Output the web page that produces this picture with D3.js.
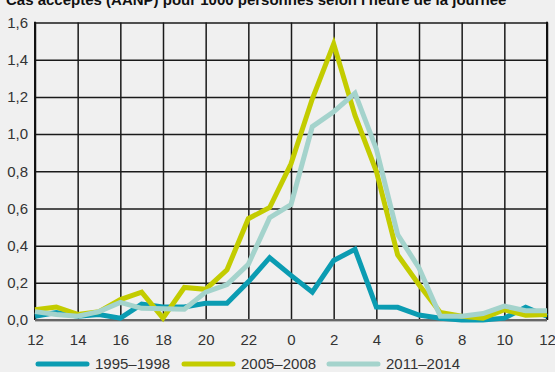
<!DOCTYPE html>
<html>
<head>
<meta charset="utf-8">
<script src="https://cdn.jsdelivr.net/npm/d3@7"></script>
<style>
  html, body { margin: 0; padding: 0; background: #f0f0f0; }
  svg { display: block; }
  text { font-family: "Liberation Sans", Arial, sans-serif; }
</style>
</head>
<body>
<svg id="chart" width="555" height="372"></svg>
<script>
// ---- data ----
const title = "Cas acceptés (AANP) pour 1000 personnes selon l'heure de la journée";
const hourLabels = ["12","14","16","18","20","22","0","2","4","6","8","10","12"];
const yTicks = [0, 0.2, 0.4, 0.6, 0.8, 1.0, 1.2, 1.4, 1.6];
const seriesNames = ["1995–1998", "2005–2008", "2011–2014"];
const seriesColors = ["#0b9cb2", "#c3cc00", "#a4d3cc"];
// hourly values, from 12:00 through midnight to 12:00 (25 points)
const s1995 = [0.02,0.04,0.02,0.03,0.01,0.085,0.07,0.07,0.09,0.09,0.205,0.335,0.24,0.15,0.32,0.38,0.07,0.068,0.027,0.01,0.0,0.0,0.01,0.068,0.02];
const s2005 = [0.055,0.07,0.03,0.045,0.11,0.15,0.01,0.175,0.165,0.27,0.545,0.605,0.84,1.19,1.485,1.1,0.8,0.35,0.19,0.04,0.02,0.01,0.055,0.025,0.03];
const s2011 = [0.045,0.03,0.02,0.045,0.095,0.063,0.06,0.058,0.15,0.19,0.3,0.55,0.62,1.04,1.12,1.22,0.92,0.46,0.28,0.02,0.02,0.035,0.075,0.05,0.05];
const allSeries = [s1995, s2005, s2011];

// ---- layout ----
const svg = d3.select("#chart");
const mLeft = 35, mRight = 547, mTop = 22.5, mBottom = 320;
const x = d3.scaleLinear().domain([0, 24]).range([mLeft, mRight]);
const y = d3.scaleLinear().domain([0, 1.6]).range([mBottom, mTop]);
const fr = d3.formatLocale({decimal: ",", thousands: " ", grouping: [3], currency: ["", ""]});
const fmt = fr.format(".1f");

// title (cut off at the top edge, as in the reference)
svg.append("text")
  .attr("x", 6).attr("y", 4.5)
  .attr("font-size", 15).attr("font-weight", "bold").attr("fill", "#111")
  .text(title);

// vertical grid
const xTickVals = d3.range(0, 25, 2);
svg.append("g")
  .attr("transform", `translate(0,${mBottom})`)
  .call(d3.axisBottom(x).tickValues(xTickVals).tickSize(-(mBottom - mTop)).tickFormat(""))
  .call(g => g.select(".domain").remove())
  .call(g => g.selectAll("line").attr("stroke", "#1a1a1a").attr("stroke-width", 1.5));

// horizontal grid
svg.append("g")
  .attr("transform", `translate(${mLeft},0)`)
  .call(d3.axisLeft(y).tickValues(yTicks).tickSize(-(mRight - mLeft)).tickFormat(""))
  .call(g => g.select(".domain").remove())
  .call(g => g.selectAll("line").attr("stroke", "#1a1a1a").attr("stroke-width", 1.5));

// frame
svg.append("line").attr("x1", mLeft).attr("x2", mLeft).attr("y1", mTop - 0.75).attr("y2", mBottom)
  .attr("stroke", "#111").attr("stroke-width", 2);
svg.append("line").attr("x1", mRight).attr("x2", mRight).attr("y1", mTop - 0.75).attr("y2", mBottom)
  .attr("stroke", "#111").attr("stroke-width", 2);

// y tick labels
svg.append("g")
  .attr("transform", `translate(${mLeft},0)`)
  .call(d3.axisLeft(y).tickValues(yTicks).tickSize(0).tickPadding(7).tickFormat(fmt))
  .call(g => g.select(".domain").remove())
  .call(g => g.selectAll("text").attr("font-size", 15).attr("fill", "#333")
    .attr("font-family", "'Liberation Sans', Arial, sans-serif"));

// x tick labels
svg.append("g")
  .attr("transform", `translate(0,${mBottom})`)
  .call(d3.axisBottom(x).tickValues(xTickVals).tickSize(0).tickPadding(0)
    .tickFormat((d, i) => hourLabels[i]))
  .call(g => g.select(".domain").remove())
  .call(g => g.selectAll("text").attr("font-size", 15).attr("fill", "#333")
    .attr("dy", null).attr("y", 25)
    .attr("font-family", "'Liberation Sans', Arial, sans-serif"));

// bottom axis line
svg.append("line").attr("x1", mLeft).attr("x2", mRight).attr("y1", mBottom).attr("y2", mBottom)
  .attr("stroke", "#666").attr("stroke-width", 2);

// series lines
const line = d3.line().x((d, i) => x(i)).y(d => y(d));
allSeries.forEach((s, k) => {
  svg.append("path")
    .datum(s)
    .attr("d", line)
    .attr("fill", "none")
    .attr("stroke", seriesColors[k])
    .attr("stroke-width", 5)
    .attr("stroke-linejoin", "miter")
    .attr("stroke-miterlimit", 10);
});

// legend
const legendX = [38, 184, 329];
const lg = svg.append("g");
seriesNames.forEach((name, k) => {
  lg.append("line")
    .attr("x1", legendX[k]).attr("x2", legendX[k] + 49)
    .attr("y1", 364).attr("y2", 364)
    .attr("stroke", seriesColors[k]).attr("stroke-width", 5)
    .attr("stroke-linecap", "round");
  lg.append("text")
    .attr("x", legendX[k] + 57).attr("y", 368.5)
    .attr("font-size", 15).attr("fill", "#333")
    .text(name);
});
</script>
</body>
</html>
